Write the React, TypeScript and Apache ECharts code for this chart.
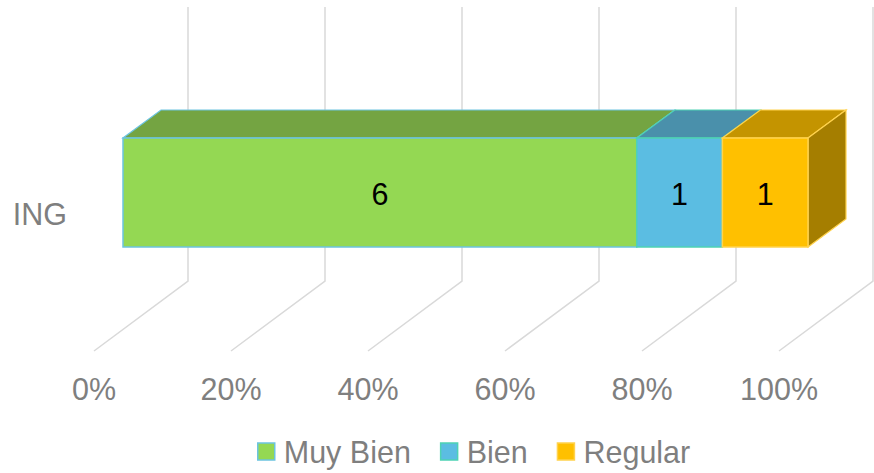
import React, { useEffect, useRef } from "react";
import * as echarts from "echarts";

const categories = ["ING"];
const seriesNames = ["Muy Bien", "Bien", "Regular"];
const seriesValues = [[6], [1], [1]];
const tickValues = [0, 20, 40, 60, 80, 100];

const frontColors = ["#94D853", "#5BBDE2", "#FFC000"];
const topColors = ["#74A442", "#4A90AB", "#C49400"];
const sideColors = ["#6A9A3A", "#3F7F98", "#A57E00"];
const borderColors = ["#6CC4E0", "#4ED2B4", "#FFD24D"];

const FONT = "'Liberation Sans', Arial, sans-serif";
const TEXT_GREY = "#7F7F7F";
const FS = 30.5;

export default function App() {
  const ref = useRef<HTMLDivElement>(null);
  useEffect(() => {
    if (!ref.current) return;
    const chart = echarts.init(ref.current, undefined, { renderer: "svg" });

    // floor perspective vector and bar placement (layout constants)
    const DX = 94, DY = -70; // full floor depth
    const BAR_FRONT_DX = 29;
    const BAR_DEPTH_X = 38, BAR_DEPTH_Y = -28;
    const BAR_TOP_OFF = -76, BAR_BOTTOM_OFF = 33;

    const totals = categories.map((_, ci) =>
      seriesValues.reduce((s, arr) => s + arr[ci], 0)
    );

    const segSeries = seriesNames.map((name, si) => {
      const data = categories.map((_, ci) => {
        let start = 0;
        for (let k = 0; k < si; k++) start += seriesValues[k][ci];
        const v = seriesValues[si][ci];
        return [
          (start / totals[ci]) * 100,
          ((start + v) / totals[ci]) * 100,
          ci,
          v,
        ];
      });
      const isLast = si === seriesNames.length - 1;
      return {
        type: "custom",
        name,
        z: 10 + si,
        itemStyle: { color: frontColors[si] },
        data,
        renderItem: (params: any, api: any) => {
          const s = api.value(0);
          const e = api.value(1);
          const ci = api.value(2);
          const val = api.value(3);
          const p0 = api.coord([s, ci]);
          const p1 = api.coord([e, ci]);
          const fx0 = p0[0] + BAR_FRONT_DX;
          const fx1 = p1[0] + BAR_FRONT_DX;
          const top = p0[1] + BAR_TOP_OFF;
          const bottom = p0[1] + BAR_BOTTOM_OFF;
          const children: any[] = [];
          children.push({
            type: "polygon",
            shape: {
              points: [
                [fx0, top],
                [fx1, top],
                [fx1 + BAR_DEPTH_X, top + BAR_DEPTH_Y],
                [fx0 + BAR_DEPTH_X, top + BAR_DEPTH_Y],
              ],
            },
            style: { fill: topColors[si], stroke: borderColors[si], lineWidth: 1.2 },
          });
          if (isLast) {
            children.push({
              type: "polygon",
              shape: {
                points: [
                  [fx1, top],
                  [fx1 + BAR_DEPTH_X, top + BAR_DEPTH_Y],
                  [fx1 + BAR_DEPTH_X, bottom + BAR_DEPTH_Y],
                  [fx1, bottom],
                ],
              },
              style: { fill: sideColors[si], stroke: borderColors[si], lineWidth: 1.2 },
            });
          }
          children.push({
            type: "rect",
            shape: { x: fx0, y: top, width: fx1 - fx0, height: bottom - top },
            style: { fill: frontColors[si], stroke: borderColors[si], lineWidth: 1.5 },
          });
          children.push({
            type: "text",
            style: {
              text: String(val),
              x: (fx0 + fx1) / 2,
              y: (top + bottom) / 2 + 1,
              align: "center",
              verticalAlign: "middle",
              fill: "#000000",
              fontSize: FS,
              fontFamily: FONT,
            },
          });
          return { type: "group", children };
        },
      };
    });

    const gridSeries = {
      type: "custom",
      name: "_grid",
      z: 1,
      silent: true,
      data: tickValues.map((t) => [t, 0]),
      renderItem: (params: any, api: any) => {
        const cs = params.coordSys;
        const x = api.coord([api.value(0), 0])[0];
        const floorY = cs.y + cs.height;
        return {
          type: "polyline",
          shape: {
            points: [
              [x, floorY],
              [x + DX, floorY + DY],
              [x + DX, 7],
            ],
          },
          style: { fill: "none", stroke: "#D9D9D9", lineWidth: 1.5 },
        };
      },
    };

    chart.setOption({
      animation: false,
      backgroundColor: "#ffffff",
      textStyle: { fontFamily: FONT },
      grid: { left: 94, right: 95, top: 77, bottom: 122 },
      xAxis: {
        type: "value",
        min: 0,
        max: 100,
        interval: 20,
        axisLine: { show: false },
        axisTick: { show: false },
        splitLine: { show: false },
        axisLabel: {
          formatter: "{value}%",
          color: TEXT_GREY,
          fontSize: FS,
          fontFamily: FONT,
          margin: 22,
        },
      },
      yAxis: {
        type: "category",
        data: categories,
        axisLine: { show: false },
        axisTick: { show: false },
        splitLine: { show: false },
        axisLabel: {
          color: TEXT_GREY,
          fontSize: FS,
          fontFamily: FONT,
          margin: 27,
        },
      },
      legend: {
        left: 252,
        top: 431,
        itemWidth: 17,
        itemHeight: 17,
        itemGap: 29,
        textStyle: {
          color: TEXT_GREY,
          fontSize: FS,
          fontFamily: FONT,
          padding: [0, 0, 0, 4],
        },
        data: seriesNames.map((n, i) => ({
          name: n,
          icon: "rect",
          itemStyle: {
            color: frontColors[i],
            borderColor: borderColors[i],
            borderWidth: 1.5,
          },
        })),
      },
      series: [gridSeries, ...segSeries],
    });

    return () => chart.dispose();
  }, []);

  return (
    <div
      ref={ref}
      style={{ position: "fixed", left: 0, top: 0, width: 874, height: 473 }}
    />
  );
}
